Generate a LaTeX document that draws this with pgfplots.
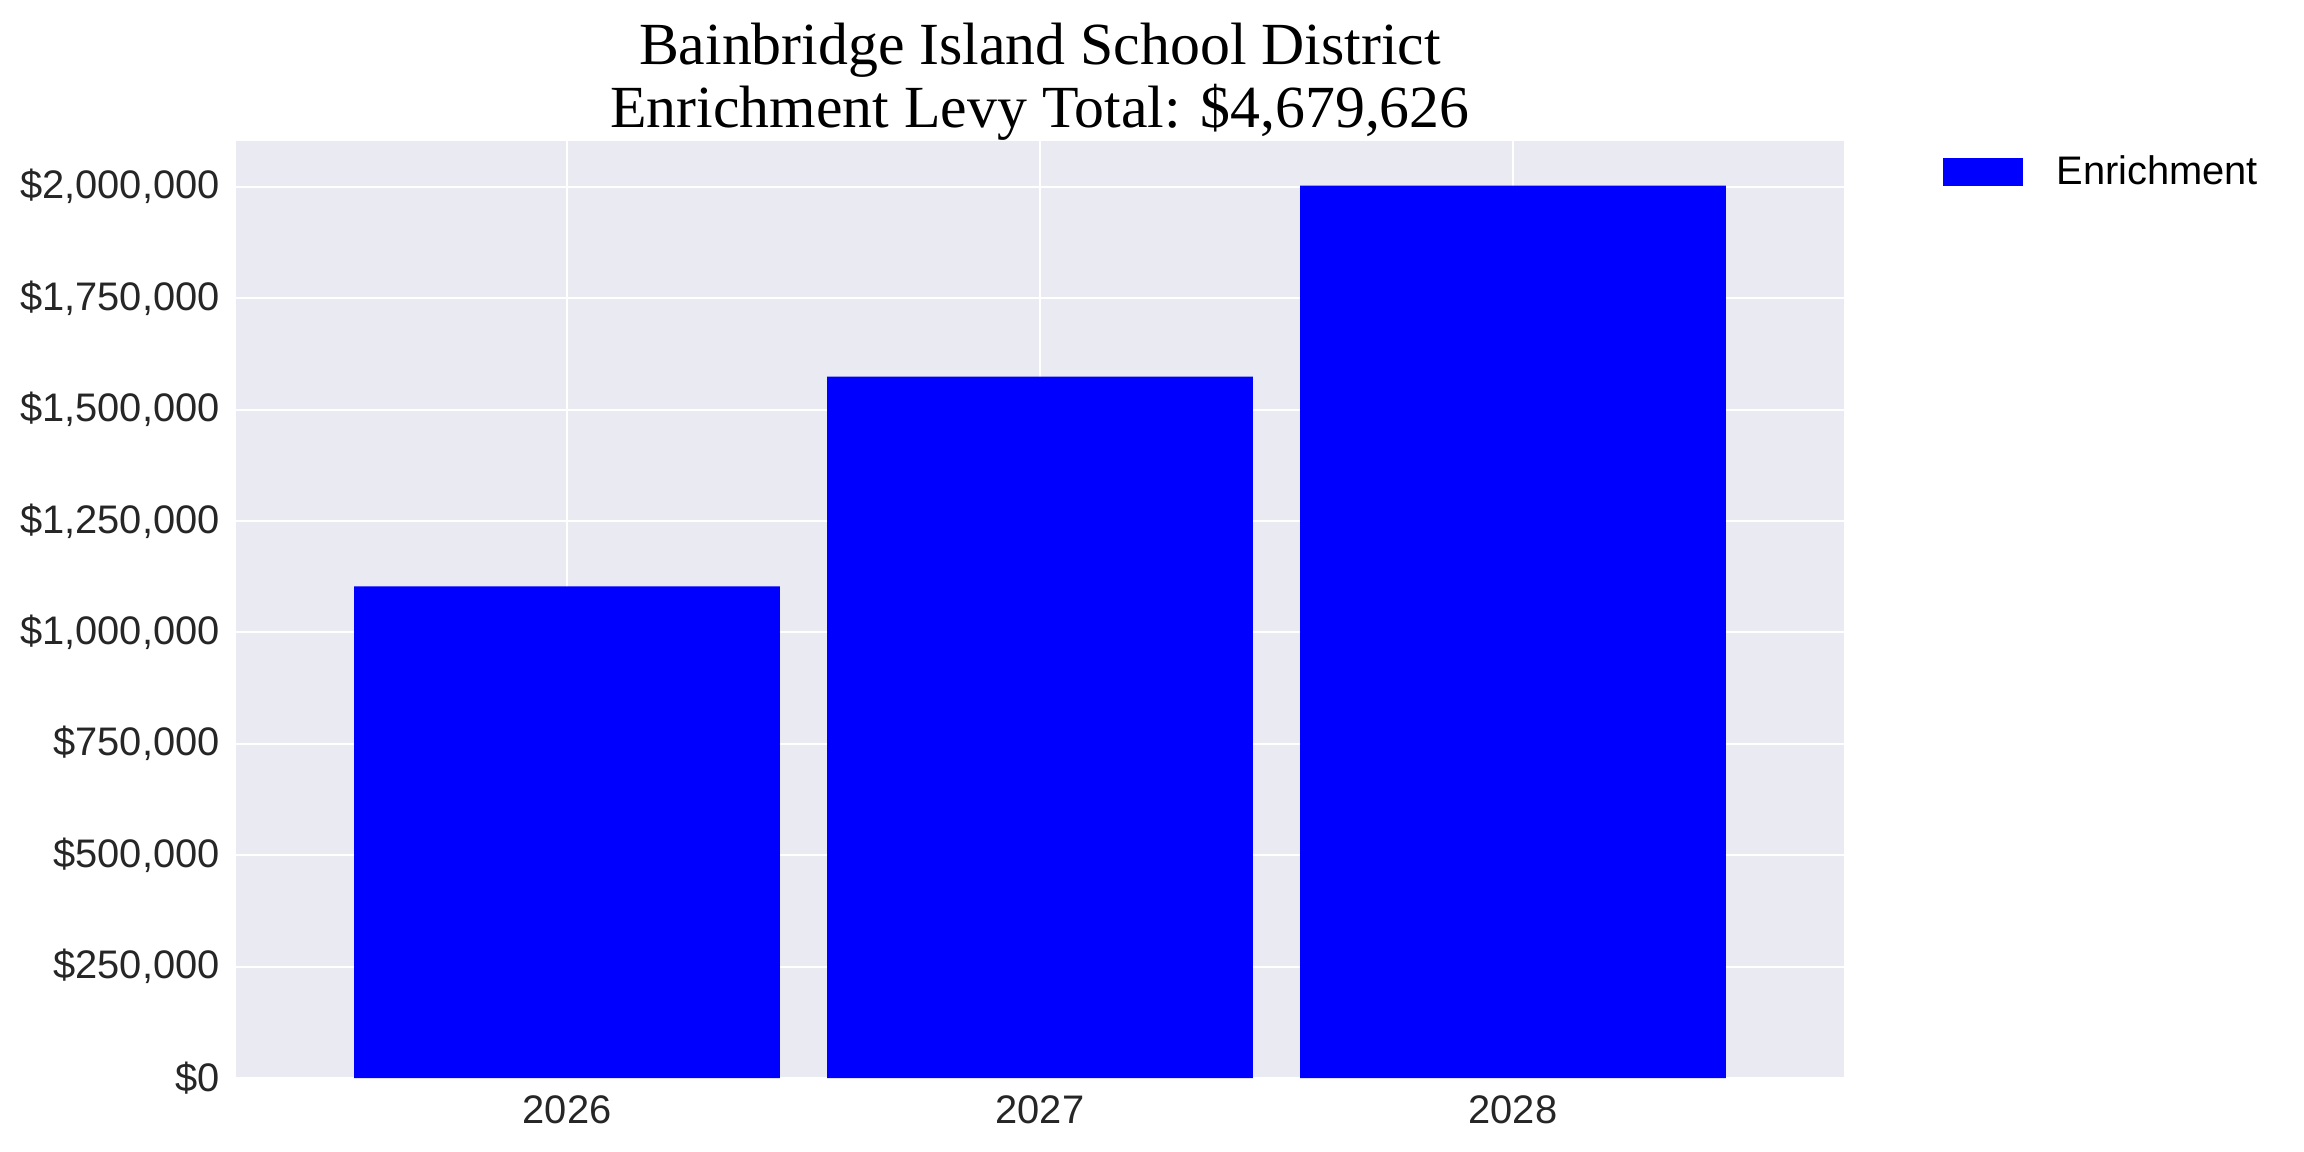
\documentclass[border=0pt]{standalone}
\usepackage{fontspec}
\setmainfont{Liberation Sans}
\newfontfamily\titlefont{Liberation Serif}
\usepackage{pgfplots}
\pgfplotsset{compat=1.18}

\definecolor{bgcol}{HTML}{EAEAF2}
\definecolor{barblue}{HTML}{0000FF}
\definecolor{ticktext}{HTML}{262626}

\begin{document}
\begin{tikzpicture}
  \useasboundingbox (-118bp,-37bp) rectangle (1034bp,539bp);
  \begin{axis}[
      scale only axis,
      width=804bp,
      height=468.5bp,
      at={(0,0)}, anchor=south west,
      xmin=-0.7, xmax=2.7,
      ymin=0, ymax=2102757,
      axis background/.style={fill=bgcol},
      axis line style={draw=none},
      major tick length=0pt,
      xmajorgrids, ymajorgrids,
      grid style={white, line width=1bp},
      xtick={0,1,2},
      xticklabels={2026,2027,2028},
      ytick={0,250000,500000,750000,1000000,1250000,1500000,1750000,2000000},
      yticklabels={{\$0},{\$250,000},{\$500,000},{\$750,000},{\$1,000,000},
                   {\$1,250,000},{\$1,500,000},{\$1,750,000},{\$2,000,000}},
      scaled y ticks=false,
      tick label style={font=\fontsize{20}{24}\selectfont, text=ticktext, inner sep=0pt},
      xticklabel style={yshift=-8.5bp},
      yticklabel style={xshift=-8bp},
      title={Bainbridge Island School District\\Enrichment Levy Total: \$4,679,626},
      title style={font=\fontsize{30}{31.5}\selectfont\titlefont, align=center,
                   at={(0.5,1)}, anchor=south, inner sep=0pt, yshift=-6bp},
      legend image code/.code={\fill[#1] (0bp,-7bp) rectangle (40bp,7bp);},
      legend style={draw=none, fill=none, inner sep=0pt,
                    at={(1.0616,0.967)}, anchor=west,
                    font=\fontsize{20}{24}\selectfont,
                    nodes={inner sep=0pt}, column sep=16.5bp},
    ]
    \addplot[ybar, bar width=0.9, fill=barblue, draw=none] coordinates {
      (0,1103000)
      (1,1574000)
      (2,2002626)
    };
    \addlegendentry{Enrichment}
  \end{axis}
\end{tikzpicture}
\end{document}
